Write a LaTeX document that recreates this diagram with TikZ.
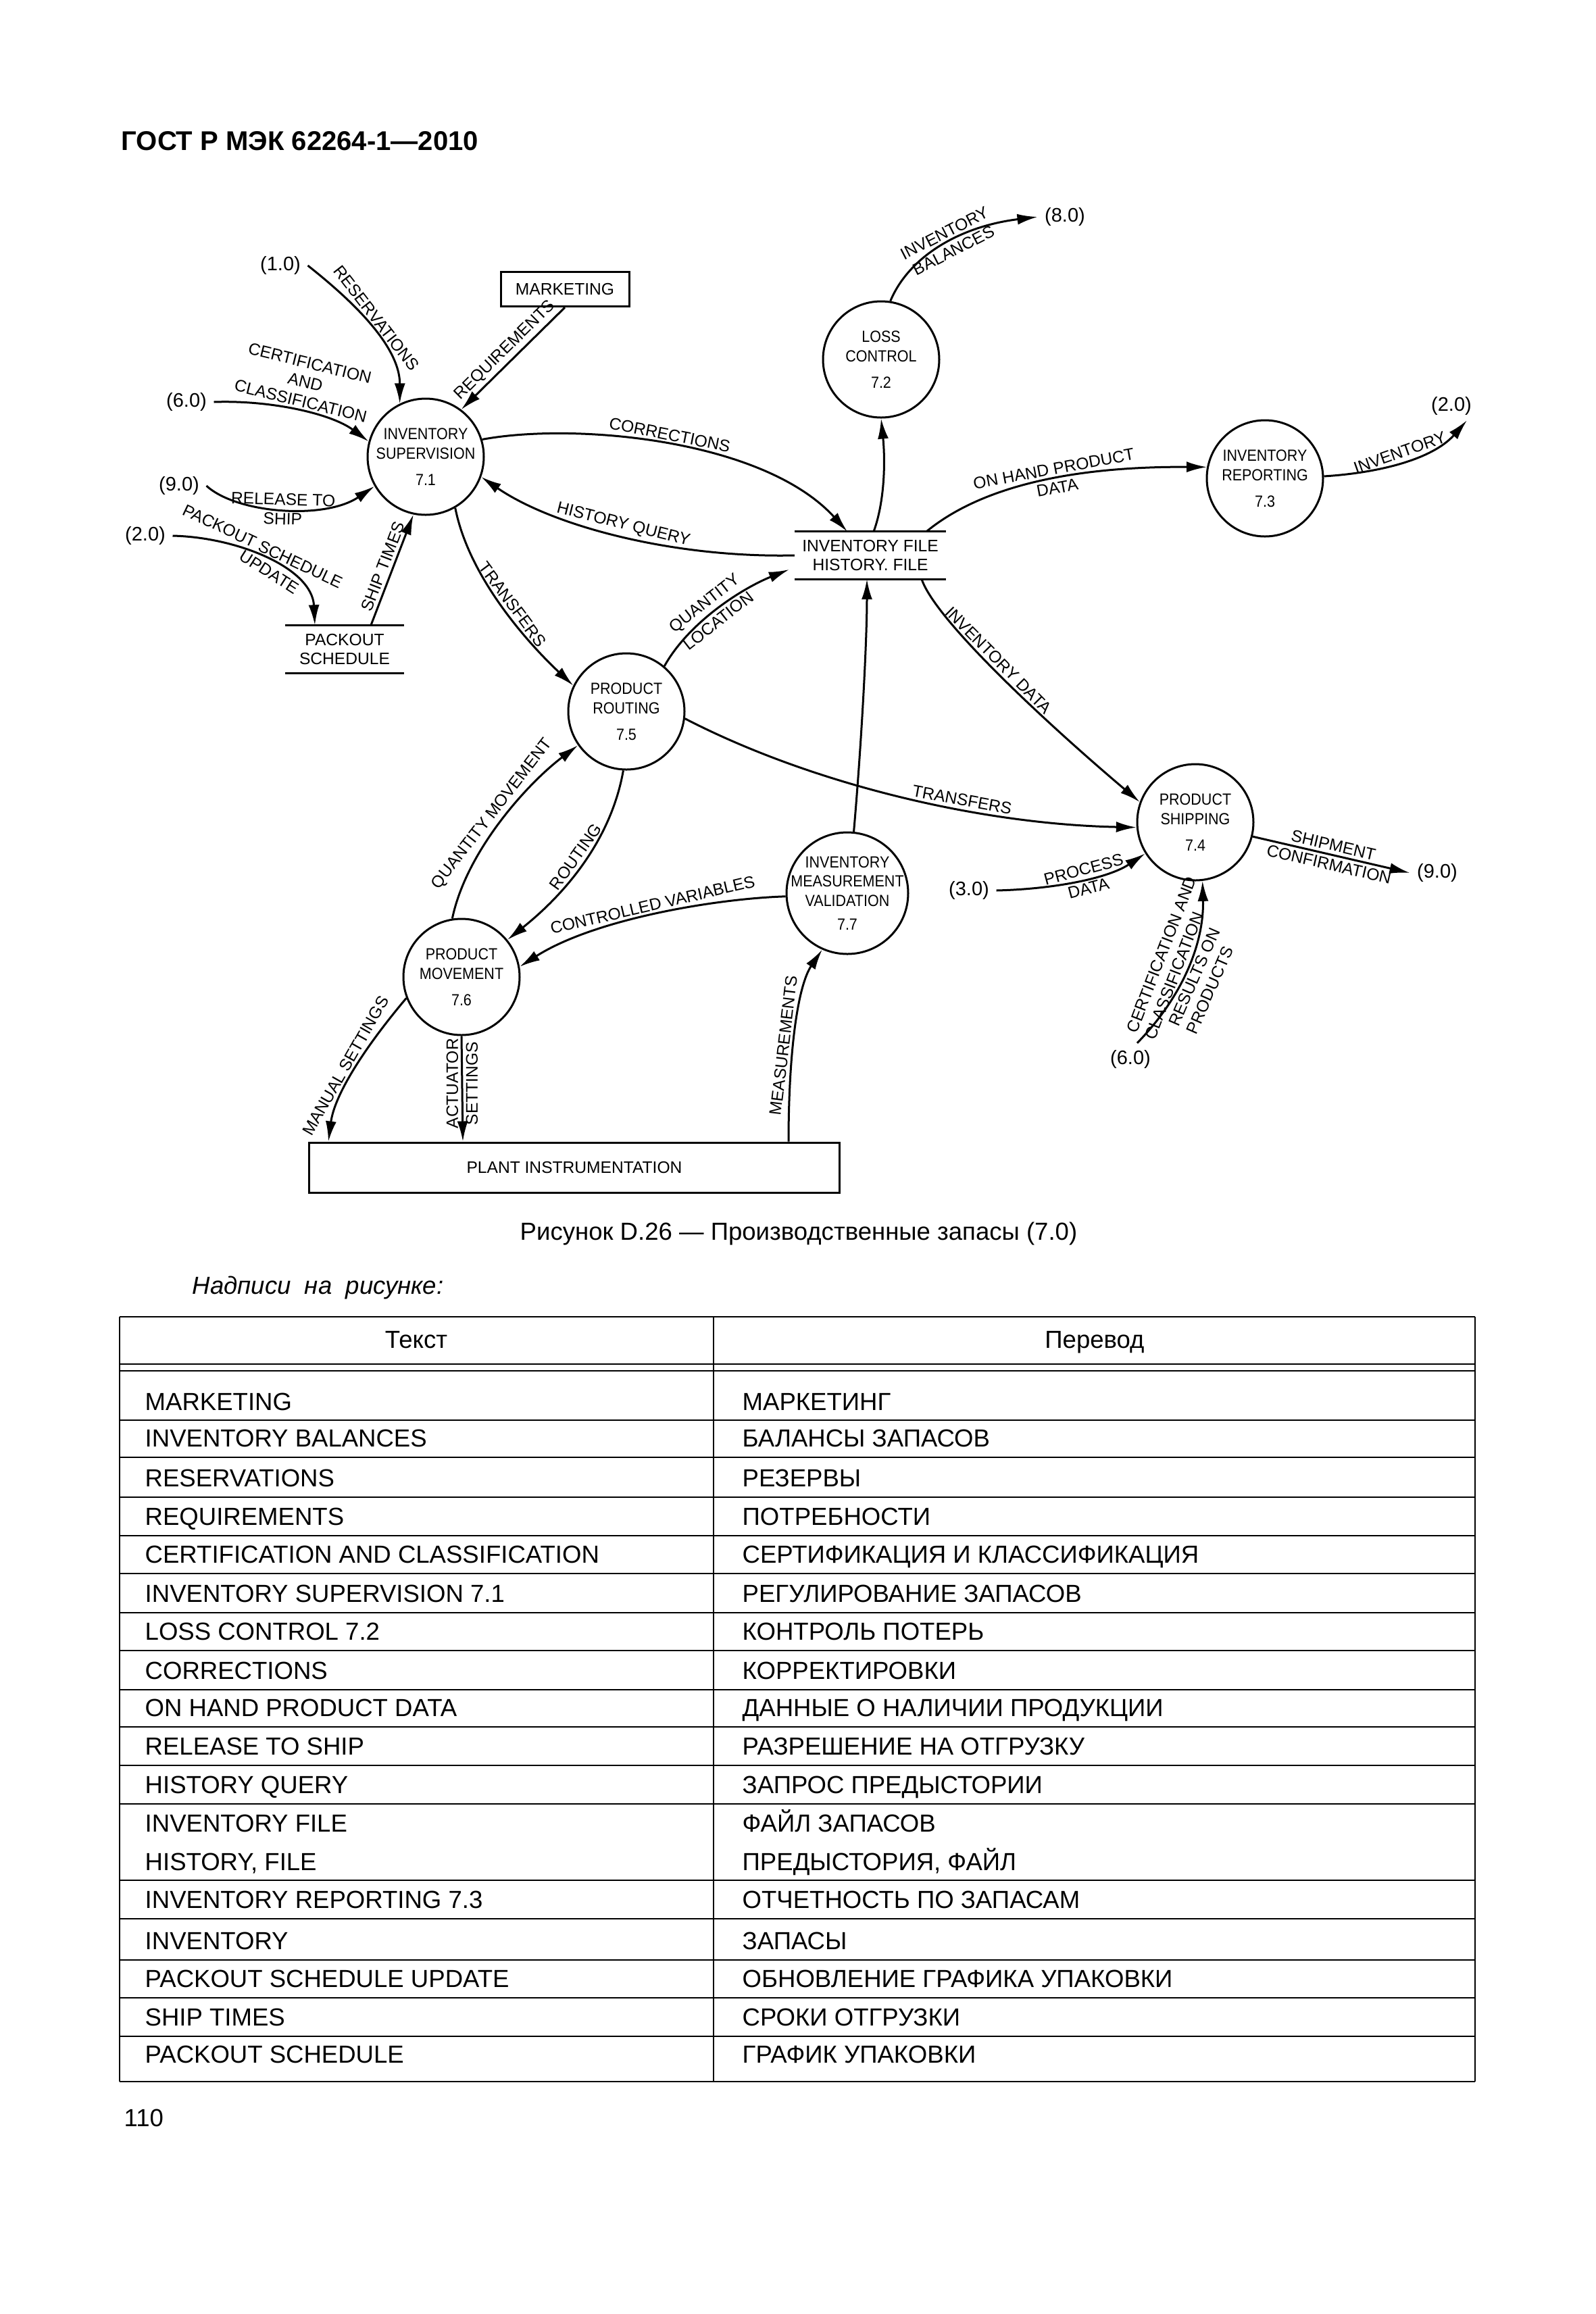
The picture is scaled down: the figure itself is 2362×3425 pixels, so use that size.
\documentclass[tikz,border=0pt]{standalone}
\usepackage{fontspec}
\setmainfont{Liberation Sans}
\newfontfamily\narrowfont{Liberation Sans}[FakeStretch=0.9]
\usetikzlibrary{arrows.meta, calc}

\begin{document}
\begin{tikzpicture}[
        x=0.1mm, y=-0.1mm,
        proc/.style={draw=black, line width=0.3mm, circle, minimum size=17.2mm, inner sep=-1.5mm, align=center, font=\narrowfont\fontsize{6.8}{8.2}\selectfont},
        store/.style={inner sep=0pt, align=center, font=\fontsize{7}{8.2}\selectfont},
        extbox/.style={draw=black, line width=0.3mm, font=\fontsize{7}{8}\selectfont},
        xref/.style={inner sep=1mm, font=\fontsize{8.25}{9}\selectfont},
        flow/.style={line width=0.3mm, -{Latex[length=3mm, width=1.6mm]}},
        lbl/.style={inner sep=1.2pt, align=center, font=\fontsize{7}{8.2}\selectfont},
        hline/.style={line width=0.25mm},
        vline/.style={line width=0.2mm},
        cell/.style={anchor=base west, inner sep=0pt, font=\fontsize{10.4}{12}\selectfont}
    ]
    \useasboundingbox (0,0) rectangle (2362,3425);

    % Kopfzeile
    \node[cell, font=\fontsize{11.4}{13}\selectfont\bfseries] (title) at (179,222) {ГОСТ Р МЭК 62264-1—2010};

    % Prozesse
    \node[proc] (sup) at (630,676) {INVENTORY\\SUPERVISION\\[1mm]7.1};
    \node[proc] (loss) at (1304,532) {LOSS\\CONTROL\\[1mm]7.2};
    \node[proc] (rep) at (1872,708) {INVENTORY\\REPORTING\\[1mm]7.3};
    \node[proc] (ship) at (1769,1217) {PRODUCT\\SHIPPING\\[1mm]7.4};
    \node[proc] (rout) at (927,1053) {PRODUCT\\ROUTING\\[1mm]7.5};
    \node[proc] (move) at (683,1446) {PRODUCT\\MOVEMENT\\[1mm]7.6};
    \node[proc, minimum size=18mm] (meas) at (1254,1322) {INVENTORY\\MEASUREMENT\\VALIDATION\\[0.6mm]7.7};

    % Externe Stellen
    \node[extbox, minimum width=19mm, minimum height=5.1mm] (mkt) at (836,428) {MARKETING};
    \node[extbox, minimum width=78.5mm, minimum height=7.4mm] (plant) at (850,1728) {PLANT INSTRUMENTATION};
    \node[xref] (e10) at (415,393) {(1.0)};
    \node[xref] (e60a) at (276,595) {(6.0)};
    \node[xref] (e90a) at (265,719) {(9.0)};
    \node[xref] (e20a) at (215,793) {(2.0)};
    \node[xref] (e80) at (1576,321) {(8.0)};
    \node[xref] (e20b) at (2148,601) {(2.0)};
    \node[xref] (e90b) at (2127,1292) {(9.0)};
    \node[xref] (e30) at (1434,1318) {(3.0)};
    \node[xref] (e60b) at (1673,1568) {(6.0)};

    % Speicher
    \node[store, minimum width=17.5mm, minimum height=7mm] (pks) at (510,961) {PACKOUT\\SCHEDULE};
    \node[store, minimum width=22.3mm, minimum height=6.9mm] (file) at (1288,822) {INVENTORY FILE\\HISTORY. FILE};
    \draw[line width=0.3mm] (pks.north west) -- (pks.north east) (pks.south west) -- (pks.south east);
    \draw[line width=0.3mm] (file.north west) -- (file.north east) (file.south west) -- (file.south east);

    % Fluesse
    \draw[flow] (e10.east) .. controls (515,440) and (592,510) .. (sup.116)
        node[lbl, pos=.5, sloped, above] {RESERVATIONS};
    \draw[flow] (e60a.east) .. controls (400,592) and (490,612) .. (sup.165)
        node[lbl, pos=.5, sloped, above] {CERTIFICATION\\AND\\CLASSIFICATION};
    \draw[flow] (e90a.east) .. controls (350,760) and (480,770) .. (sup.210)
        node[lbl, pos=.5, sloped, above] {RELEASE TO}
        node[lbl, pos=.5, sloped, below] {SHIP};
    \draw[flow] (e20a.east) .. controls (350,795) and (462,840) .. ($(pks.north)+(-44,0)$)
        node[lbl, pos=.45, sloped, above] {PACKOUT SCHEDULE}
        node[lbl, pos=.55, sloped, below] {UPDATE};
    \draw[flow] ($(pks.north)+(39,0)$) -- (sup.258)
        node[lbl, pos=.5, sloped, above] {SHIP TIMES};
    \draw[flow] (mkt.south) -- (sup.53)
        node[lbl, pos=.5, sloped, above] {REQUIREMENTS};
    \draw[flow] (sup.17) .. controls (850,625) and (1130,650) .. ($(file.north)+(-34,0)$)
        node[lbl, pos=.5, sloped, above] {CORRECTIONS};
    \draw[flow] (file.west) .. controls (1000,826) and (820,780) .. (sup.-20)
        node[lbl, pos=.5, sloped, above] {HISTORY QUERY};
    \draw[flow] (sup.-60) .. controls (695,860) and (790,960) .. (rout.154)
        node[lbl, pos=.5, sloped, above] {TRANSFERS};
    \draw[flow] (rout.50) .. controls (1020,920) and (1100,870) .. ($(file.west)+(-8,21)$)
        node[lbl, pos=.45, sloped, above] {QUANTITY}
        node[lbl, pos=.45, sloped, below] {LOCATION};
    \draw[flow] ($(file.north)+(5,0)$) .. controls (1310,740) and (1310,680) .. (loss.south);
    \draw[flow] (loss.81) .. controls (1345,380) and (1420,335) .. (e80.west)
        node[lbl, pos=.55, sloped, above] {INVENTORY}
        node[lbl, pos=.55, sloped, below] {BALANCES};
    \draw[flow] ($(file.north)+(83,0)$) .. controls (1440,730) and (1560,690) .. (rep.169)
        node[lbl, pos=.6, sloped, above] {ON HAND PRODUCT}
        node[lbl, pos=.6, sloped, below] {DATA};
    \draw[flow] (rep.2) .. controls (2040,700) and (2120,680) .. ($(e20b.south)+(23,-3)$)
        node[lbl, pos=.5, sloped, above] {INVENTORY};
    \draw[flow] ($(file.south)+(76,0)$) .. controls (1385,920) and (1560,1080) .. (ship.160)
        node[lbl, pos=.45, sloped, above] {INVENTORY DATA};
    \draw[flow] (rout.-7) .. controls (1200,1160) and (1450,1220) .. (ship.185)
        node[lbl, pos=.63, sloped, above] {TRANSFERS};
    \draw[flow] (meas.84) .. controls (1275,1100) and (1283,950) .. ($(file.south)+(-5,0)$);
    \draw[flow] (e30.east) .. controls (1560,1316) and (1640,1300) .. (ship.212)
        node[lbl, pos=.55, sloped, above] {PROCESS}
        node[lbl, pos=.55, sloped, below] {DATA};
    \draw[flow] (ship.-14) -- (e90b.west)
        node[lbl, pos=.5, sloped, above] {SHIPMENT}
        node[lbl, pos=.5, sloped, below] {CONFIRMATION};
    \draw[flow] ($(e60b.north)+(10,0)$) .. controls (1755,1470) and (1782,1390) .. (ship.-83)
        node[lbl, pos=.5, sloped, above, align=left] {CERTIFICATION AND\\CLASSIFICATION}
        node[lbl, pos=.45, sloped, below, align=left] {RESULTS ON\\PRODUCTS};
    \draw[flow] ($(plant.north)+(317,0)$) .. controls (1167,1560) and (1180,1460) .. (meas.246)
        node[lbl, pos=.4, sloped, above] {MEASUREMENTS};
    \draw[flow] (meas.183) .. controls (1060,1330) and (880,1360) .. (move.10)
        node[lbl, pos=.5, sloped, above] {CONTROLLED VARIABLES};
    \draw[flow] (move.99) .. controls (690,1260) and (780,1160) .. (rout.215)
        node[lbl, pos=.5, sloped, above] {QUANTITY MOVEMENT};
    \draw[flow] (rout.267) .. controls (905,1240) and (840,1320) .. (move.39)
        node[lbl, pos=.5, sloped, above] {ROUTING};
    \draw[flow] (move.south) -- ($(plant.north)+(-165,0)$)
        node[lbl, pos=.45, rotate=90, anchor=south] {ACTUATOR}
        node[lbl, pos=.45, rotate=90, anchor=north] {SETTINGS};
    \draw[flow] (move.201) .. controls (540,1550) and (495,1620) .. ($(plant.north)+(-364,0)$)
        node[lbl, pos=.5, sloped, above] {MANUAL SETTINGS};

    % Unterschrift
    \node[cell, anchor=base] (cap) at (1182,1835) {Рисунок D.26 — Производственные запасы (7.0)};
    \node[cell, font=\fontsize{10.4}{12}\selectfont\itshape] (legend) at (284,1915) {Надписи\ \ на\ \ рисунке:};

    % Tabelle
    \draw[hline] (177,1949) -- (2183,1949);
    \draw[hline] (177,2019) -- (2183,2019) (177,2029) -- (2183,2029);
    \foreach \y in {2102,2157,2216,2273,2329,2387,2443,2501,2556,2613,2670,2783,2840,2901,2957,3014,3081}
        \draw[hline] (177,\y) -- (2183,\y);
    \draw[vline] (177,1949) -- (177,3081) (1056,1949) -- (1056,3081) (2183,1949) -- (2183,3081);
    \node[cell, anchor=base] (hd1) at (616,1995) {Текст};
    \node[cell, anchor=base] (hd2) at (1620,1995) {Перевод};
    \foreach \y/\en/\ru [count=\i] in {
            2087/MARKETING/МАРКЕТИНГ,
            2141/INVENTORY BALANCES/БАЛАНСЫ ЗАПАСОВ,
            2200/RESERVATIONS/РЕЗЕРВЫ,
            2257/REQUIREMENTS/ПОТРЕБНОСТИ,
            2313/CERTIFICATION AND CLASSIFICATION/СЕРТИФИКАЦИЯ И КЛАССИФИКАЦИЯ,
            2371/INVENTORY SUPERVISION 7.1/РЕГУЛИРОВАНИЕ ЗАПАСОВ,
            2427/LOSS CONTROL 7.2/КОНТРОЛЬ ПОТЕРЬ,
            2485/CORRECTIONS/КОРРЕКТИРОВКИ,
            2540/ON HAND PRODUCT DATA/ДАННЫЕ О НАЛИЧИИ ПРОДУКЦИИ,
            2597/RELEASE TO SHIP/РАЗРЕШЕНИЕ НА ОТГРУЗКУ,
            2654/HISTORY QUERY/ЗАПРОС ПРЕДЫСТОРИИ,
            2824/INVENTORY REPORTING 7.3/ОТЧЕТНОСТЬ ПО ЗАПАСАМ,
            2885/INVENTORY/ЗАПАСЫ,
            2941/PACKOUT SCHEDULE UPDATE/ОБНОВЛЕНИЕ ГРАФИКА УПАКОВКИ,
            2998/SHIP TIMES/СРОКИ ОТГРУЗКИ,
            3053/PACKOUT SCHEDULE/ГРАФИК УПАКОВКИ} {
        \node[cell] (en\i) at (214,\y) {\en};
        \node[cell] (ru\i) at (1098,\y) {\ru};
    }
    \node[cell] (fileen1) at (214,2711) {INVENTORY FILE};
    \node[cell] (fileen2) at (214,2768) {HISTORY, FILE};
    \node[cell] (fileru1) at (1098,2711) {ФАЙЛ ЗАПАСОВ};
    \node[cell] (fileru2) at (1098,2768) {ПРЕДЫСТОРИЯ, ФАЙЛ};

    % Seitenzahl
    \node[cell] (page) at (183,3147) {110};
\end{tikzpicture}
\end{document}
